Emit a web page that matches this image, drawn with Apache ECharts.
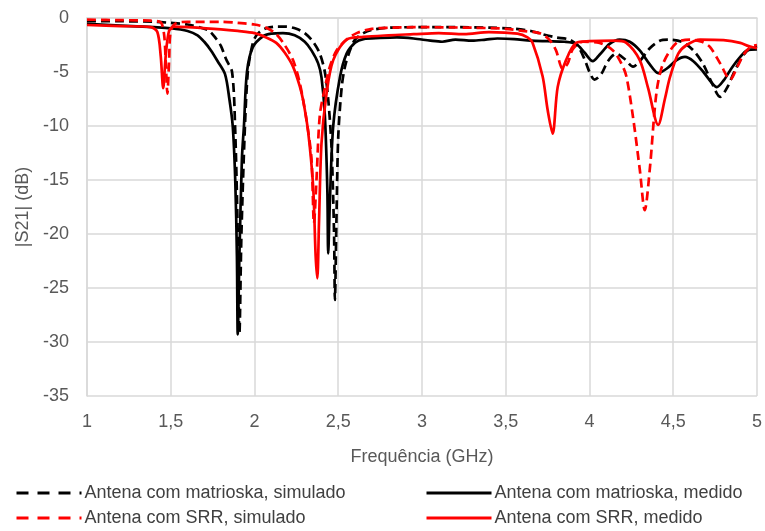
<!DOCTYPE html>
<html>
<head>
<meta charset="utf-8">
<script src="https://cdn.jsdelivr.net/npm/echarts@6/dist/echarts.min.js"></script>
<style>
html,body{margin:0;padding:0;background:#fff;}
#chart{width:765px;height:531px;}
</style>
</head>
<body>
<div id="chart"></div>
<script>
// Series names
var seriesNames = [
  'Antena com matrioska, simulado',
  'Antena com matrioska, medido',
  'Antena com SRR, simulado',
  'Antena com SRR, medido'
];

// Antena com matrioska, simulado (black dashed)
var freqMatSim = [1.0,1.2,1.4,1.5,1.6,1.68,1.73,1.77,1.8,1.83,1.866,1.884,1.9,1.91,1.922,1.943,1.96,1.98,2.0,2.03,2.07,2.13,2.19,2.25,2.3,2.35,2.39,2.42,2.44,2.46,2.475,2.48,2.49,2.5,2.52,2.54,2.57,2.6,2.65,2.7,2.8,3.0,3.2,3.4,3.55,3.65,3.72,3.8,3.88,3.93,3.97,4.0,4.03,4.07,4.11,4.16,4.21,4.26,4.3,4.36,4.42,4.47,4.55,4.62,4.68,4.73,4.78,4.82,4.87,4.92,4.96,5.0];
var s21MatSim  = [-0.3,-0.3,-0.35,-0.45,-0.6,-0.9,-1.2,-1.9,-2.6,-3.8,-5.0,-10,-20,-29.2,-20,-10,-5.0,-3.0,-1.9,-1.3,-0.95,-0.8,-0.8,-1.0,-1.4,-2.2,-3.3,-5.0,-7.5,-12,-20,-26.1,-18,-11,-6.5,-4.5,-3.0,-2.0,-1.4,-1.1,-0.9,-0.85,-0.85,-0.9,-1.0,-1.2,-1.5,-1.8,-2.0,-2.6,-3.8,-5.0,-5.7,-5.2,-4.0,-3.3,-3.8,-4.5,-4.0,-2.8,-2.1,-2.0,-2.2,-3.0,-4.3,-6.0,-7.3,-6.5,-4.8,-3.4,-2.8,-2.6];

// Antena com matrioska, medido (black solid)
var freqMatMed = [1.0,1.2,1.4,1.5,1.6,1.66,1.7,1.74,1.78,1.824,1.85,1.87,1.885,1.895,1.9,1.91,1.925,1.937,1.955,1.99,2.05,2.1,2.17,2.24,2.3,2.34,2.38,2.4,2.42,2.435,2.44,2.45,2.47,2.51,2.55,2.6,2.65,2.75,2.85,2.95,3.05,3.12,3.2,3.3,3.38,3.45,3.55,3.65,3.75,3.85,3.92,3.97,4.02,4.06,4.12,4.18,4.24,4.3,4.36,4.41,4.46,4.52,4.57,4.62,4.68,4.73,4.76,4.8,4.85,4.9,4.94,5.0];
var s21MatMed  = [-0.55,-0.7,-0.85,-0.95,-1.2,-1.6,-2.2,-3.0,-4.0,-5.2,-7.5,-10,-15,-22,-29.3,-22,-13,-10,-5.0,-2.7,-1.7,-1.45,-1.4,-1.6,-2.2,-3.0,-4.2,-5.5,-9,-16,-21.8,-17,-10,-5.5,-3.3,-2.3,-1.95,-1.85,-1.8,-1.9,-2.1,-2.2,-2.0,-2.1,-2.0,-1.9,-1.95,-2.1,-2.15,-2.2,-2.4,-3.2,-4.0,-3.4,-2.4,-2.0,-2.2,-3.0,-4.3,-5.1,-4.7,-3.9,-3.6,-4.0,-5.0,-6.0,-6.4,-5.8,-4.6,-3.6,-3.0,-2.9];

// Antena com SRR, simulado (red dashed)
var freqSrrSim = [1.0,1.2,1.38,1.44,1.46,1.47,1.48,1.49,1.5,1.53,1.6,1.8,1.9,2.0,2.07,2.13,2.18,2.23,2.27,2.31,2.34,2.355,2.37,2.39,2.42,2.45,2.49,2.55,2.61,2.7,2.8,3.0,3.3,3.5,3.6,3.7,3.76,3.8,3.84,3.87,3.9,3.96,4.06,4.14,4.19,4.22,4.26,4.3,4.33,4.36,4.4,4.44,4.52,4.6,4.67,4.72,4.78,4.84,4.88,4.92,4.96,5.0];
var s21SrrSim  = [-0.15,-0.2,-0.25,-0.4,-1.5,-4,-7.0,-4,-1.2,-0.5,-0.35,-0.35,-0.45,-0.6,-0.9,-1.5,-2.5,-3.9,-6,-9.4,-13,-19,-15,-9,-6.5,-4.5,-3.0,-2.0,-1.4,-1.0,-0.9,-0.85,-0.9,-1.0,-1.2,-1.4,-2.0,-3.0,-4.7,-4.2,-2.9,-2.2,-2.3,-3.0,-4.2,-5.4,-9.2,-14,-17.8,-14,-6.9,-4.2,-2.3,-2.0,-2.2,-2.7,-4.2,-5.7,-4.6,-3.4,-2.7,-2.5];

// Antena com SRR, medido (red solid)
var freqSrrMed = [1.0,1.2,1.38,1.42,1.44,1.455,1.47,1.49,1.52,1.6,1.8,1.9,2.0,2.07,2.13,2.18,2.23,2.27,2.29,2.32,2.35,2.365,2.375,2.385,2.4,2.43,2.47,2.55,2.65,2.8,2.95,3.1,3.25,3.4,3.57,3.63,3.66,3.72,3.75,3.78,3.81,3.86,3.92,4.0,4.15,4.22,4.3,4.35,4.41,4.45,4.48,4.53,4.58,4.66,4.8,4.9,4.95,5.0];
var s21SrrMed  = [-0.65,-0.75,-0.85,-1.3,-3.5,-6.5,-3.5,-1.2,-0.8,-0.85,-1.05,-1.2,-1.4,-1.8,-2.3,-3.2,-4.5,-6.3,-7.6,-10.5,-15.6,-22,-24.1,-19,-11.6,-7,-3.9,-2.0,-1.75,-1.6,-1.5,-1.4,-1.5,-1.3,-1.45,-1.8,-2.3,-5.4,-8.5,-10.7,-6.4,-3.9,-2.3,-2.15,-2.1,-2.3,-3.9,-6.5,-9.9,-7.5,-5.5,-3.3,-2.5,-2.0,-2.05,-2.3,-2.6,-2.8];

// Axis ticks
var xTicks = [1, 1.5, 2, 2.5, 3, 3.5, 4, 4.5, 5];
var yTicks = [-35, -30, -25, -20, -15, -10, -5, 0];

function pairs(xs, ys){ return xs.map(function(x,i){ return [x, ys[i]]; }); }

var FONT = '"Liberation Sans", Arial, sans-serif';
var chart = echarts.init(document.getElementById('chart'), null, {renderer:'canvas'});

var colors = ['#000000','#000000','#ff0000','#ff0000'];
var dashes = [[9,5], 'solid', [9,5], 'solid'];
var datas = [pairs(freqMatSim,s21MatSim), pairs(freqMatMed,s21MatMed), pairs(freqSrrSim,s21SrrSim), pairs(freqSrrMed,s21SrrMed)];

var series = seriesNames.map(function(n,i){
  return {
    name: n, type: 'line', data: datas[i], symbol: 'none', smooth: 0.3,
    lineStyle: {color: colors[i], width: 2.7, type: dashes[i]},
    itemStyle: {color: colors[i]},
    animation: false
  };
});

function legendAt(i, left, top){
  return {
    data: [{name: seriesNames[i],
            lineStyle: {type: i%2===0 ? [12,9] : 'solid', width: 3},
            itemStyle: {opacity: 0}}],
    left: left, top: top, itemWidth: 65, itemHeight: 14, itemGap: 0,
    padding: 0,
    textStyle: {fontFamily: FONT, fontSize: 18, color: '#404040', padding: [0,0,0,-2]},
    selectedMode: false
  };
}

chart.setOption({
  backgroundColor: '#ffffff',
  animation: false,
  grid: {left: 87, right: 8, top: 18, bottom: 135},
  xAxis: {
    type: 'value', min: xTicks[0], max: xTicks[xTicks.length-1], interval: 0.5,
    name: 'Frequência (GHz)', nameLocation: 'middle', nameGap: 52,
    nameTextStyle: {fontFamily: FONT, fontSize: 18, color: '#595959'},
    axisLine: {show: true, lineStyle: {color: '#d9d9d9', width: 1.5}},
    axisTick: {show: false},
    splitLine: {show: true, lineStyle: {color: '#d9d9d9', width: 1.5}},
    axisLabel: {fontFamily: FONT, fontSize: 18, color: '#595959', margin: 17,
      formatter: function(v){ return String(v).replace('.', ','); }}
  },
  yAxis: {
    type: 'value', min: yTicks[0], max: yTicks[yTicks.length-1], interval: 5,
    name: '|S21| (dB)', nameLocation: 'middle', nameGap: 54,
    nameTextStyle: {fontFamily: FONT, fontSize: 18, color: '#595959'},
    axisLine: {show: true, lineStyle: {color: '#d9d9d9', width: 1.5}},
    axisTick: {show: false},
    splitLine: {show: true, lineStyle: {color: '#d9d9d9', width: 1.5}},
    axisLabel: {fontFamily: FONT, fontSize: 18, color: '#595959', margin: 18}
  },
  legend: [
    legendAt(0, 15, 484),
    legendAt(1, 425, 484),
    legendAt(2, 15, 509),
    legendAt(3, 425, 509)
  ],
  series: series
});
</script>
</body>
</html>
